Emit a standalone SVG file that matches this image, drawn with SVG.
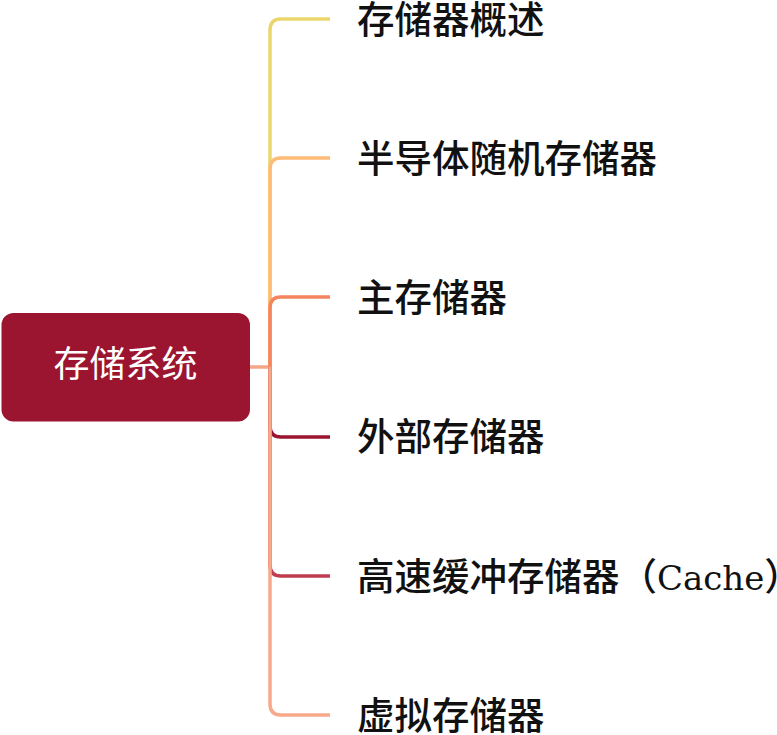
<svg xmlns="http://www.w3.org/2000/svg" width="777" height="735" viewBox="0 0 777 735">
<style>
.c{fill:none;stroke-width:3.5;stroke-linecap:butt;stroke-linejoin:round}
.t{font-family:"Noto Sans CJK SC","Noto Sans",sans-serif;font-size:37.5px;font-weight:500;fill:#111}
.r{font-family:"Noto Sans CJK SC","Noto Sans",sans-serif;font-size:36px;font-weight:400;fill:#fff}
</style>
<rect width="777" height="735" fill="#fff"/>
<g id="connectors">
<path class="c" stroke="#F5A688" d="M250 367H270"/>
<path class="c" stroke="#EBD66E" d="M270 367V30Q270 19 281 19H330"/>
<path class="c" stroke="#FDBB76" d="M270 367V169Q270 158 281 158H330"/>
<path class="c" stroke="#F4855E" d="M270 367V308Q270 297 281 297H330"/>
<path class="c" stroke="#9B1530" d="M270 367V426Q270 437 281 437H330"/>
<path class="c" stroke="#C13D4E" d="M270 367V565Q270 576 281 576H330"/>
<path class="c" stroke="#F9A98A" d="M270 367V704Q270 715 281 715H330"/>
</g>
<g id="root">
<rect x="1.5" y="313" width="248.5" height="108.5" rx="12" fill="#9B1530"/>
<text class="r" x="125.5" y="377" text-anchor="middle">存储系统</text>
</g>
<g id="n1"><text class="t" x="357" y="33">存储器概述</text></g>
<g id="n2"><text class="t" x="357" y="172">半导体随机存储器</text></g>
<g id="n3"><text class="t" x="357" y="311">主存储器</text></g>
<g id="n4"><text class="t" x="357" y="450">外部存储器</text></g>
<g id="n5"><text class="t" x="357" y="590">高速缓冲存储器（<tspan font-family="'DejaVu Serif',serif" font-size="34" font-weight="400">Cache</tspan>）</text></g>
<g id="n6"><text class="t" x="357" y="729">虚拟存储器</text></g>
</svg>
